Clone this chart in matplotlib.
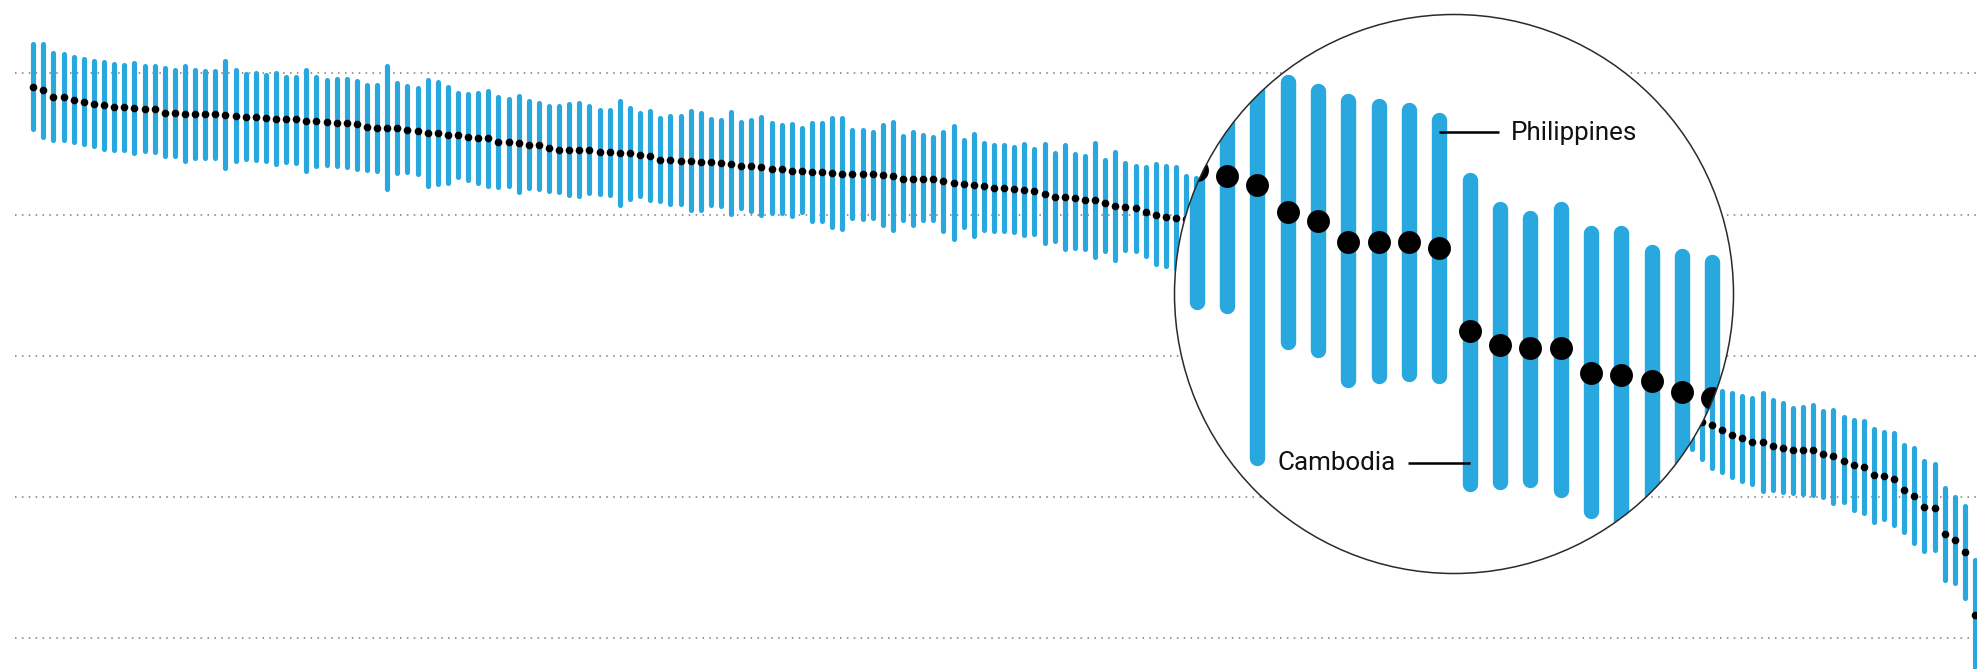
import numpy as np
import matplotlib.pyplot as plt
from matplotlib.patches import Ellipse

plt.rcParams["font.family"] = ["Roboto", "DejaVu Sans"]

# upper end, lower end and central estimate per country, ranked
high = [
    104.5, 104.6, 103.2, 103.1, 102.7, 102.4, 102.2, 102.0, 101.7, 101.6,
    101.9, 101.4, 101.4, 101.1, 100.9, 101.4, 100.8, 100.7, 100.7, 102.1,
    100.8, 100.3, 100.4, 100.2, 100.4, 99.9, 99.9, 100.9, 99.9, 99.5,
    99.6, 99.6, 99.3, 98.8, 98.7, 101.4, 99.0, 98.6, 98.3, 99.5,
    99.1, 98.5, 97.6, 97.4, 97.6, 97.9, 97.1, 96.8, 97.2, 96.4,
    96.2, 95.8, 95.7, 96.1, 96.2, 95.7, 95.2, 95.2, 96.4, 95.5,
    94.8, 95.1, 94.1, 94.4, 94.3, 95.1, 94.8, 93.9, 93.8, 94.9,
    93.5, 93.8, 94.2, 93.4, 93.0, 93.2, 92.6, 93.4, 93.3, 94.1,
    94.1, 92.4, 92.4, 92.1, 93.1, 93.5, 91.5, 92.1, 91.6, 91.3,
    92.1, 92.9, 90.9, 91.8, 90.5, 90.2, 90.2, 90.0, 90.3, 89.7,
    90.3, 89.1, 90.2, 88.9, 88.6, 90.5, 88.1, 89.2, 87.7, 87.3,
    87.1, 87.5, 87.3, 87.1, 85.8, 85.6, 85.6, 85.9, 85.2, 85.0,
    84.6, 84.9, 84.1, 83.8, 84.2, 83.4, 83.0, 83.3, 82.5, 82.1,
    82.4, 81.6, 81.5, 78.5, 79.5, 79.1, 78.7, 78.2, 78.0, 77.8,
    77.3, 74.5, 73.1, 72.7, 73.1, 72.0, 72.0, 71.1, 70.9, 70.6,
    70.2, 69.4, 68.9, 67.6, 67.2, 66.1, 65.5, 64.3, 63.8, 62.6,
    61.8, 60.9, 59.7, 58.9, 57.5, 57.0, 55.8, 55.4, 55.1, 54.7,
    54.4, 55.1, 54.1, 53.7, 53.0, 53.1, 53.4, 52.5, 52.6, 51.7,
    51.3, 51.1, 49.9, 49.5, 49.4, 47.7, 47.3, 45.4, 45.0, 41.6,
    40.3, 39.1, 31.4,
]
low = [
    91.8, 90.6, 90.2, 90.2, 89.9, 89.6, 89.4, 88.9, 88.8, 88.8,
    88.3, 88.6, 88.5, 87.9, 87.9, 87.2, 87.7, 87.7, 87.7, 86.3,
    87.2, 87.5, 87.3, 87.2, 86.8, 87.1, 87.0, 85.8, 86.5, 86.6,
    86.5, 86.4, 86.1, 86.0, 85.8, 83.2, 85.5, 85.7, 85.4, 83.7,
    84.0, 84.1, 84.9, 84.5, 84.1, 83.7, 83.5, 83.7, 82.9, 83.4,
    83.3, 83.0, 82.8, 82.4, 82.2, 82.7, 82.5, 82.4, 81.0, 81.8,
    82.3, 81.7, 81.5, 81.1, 81.1, 80.3, 80.3, 81.0, 80.9, 79.7,
    80.6, 80.2, 79.5, 79.8, 79.8, 79.4, 80.0, 78.7, 78.7, 77.8,
    77.6, 79.1, 79.0, 79.2, 78.1, 77.4, 78.8, 78.1, 78.8, 78.8,
    77.3, 76.1, 77.9, 76.6, 77.5, 77.3, 77.3, 77.1, 76.8, 76.9,
    75.6, 75.9, 74.7, 74.9, 74.7, 73.6, 74.5, 73.2, 74.6, 74.5,
    73.7, 72.6, 72.3, 71.9, 71.6, 71.2, 71.4, 71.0, 71.3, 70.6,
    70.9, 70.2, 70.4, 69.9, 69.5, 69.7, 69.0, 68.6, 68.8, 68.3,
    67.7, 67.9, 68.0, 67.8, 60.6, 66.1, 65.7, 64.3, 64.5, 64.6,
    64.5, 59.4, 59.5, 59.6, 59.1, 58.1, 57.5, 58.0, 58.2, 58.0,
    56.6, 55.9, 54.8, 54.3, 53.2, 52.6, 51.5, 50.8, 49.9, 49.2,
    48.1, 47.4, 46.8, 46.6, 46.4, 45.0, 43.7, 43.1, 42.4, 41.9,
    41.4, 40.5, 40.6, 40.3, 40.2, 40.0, 39.9, 39.6, 38.7, 38.9,
    37.8, 37.3, 36.1, 36.5, 35.6, 34.6, 33.0, 31.9, 32.0, 27.8,
    27.4, 25.2, 12.0,
]
mid = [
    98.1, 97.6, 96.7, 96.7, 96.3, 96.0, 95.7, 95.5, 95.2, 95.2,
    95.1, 95.0, 94.9, 94.4, 94.4, 94.3, 94.3, 94.3, 94.3, 94.1,
    94.0, 93.9, 93.9, 93.7, 93.6, 93.5, 93.5, 93.3, 93.2, 93.1,
    93.0, 93.0, 92.9, 92.4, 92.3, 92.3, 92.2, 92.0, 91.8, 91.6,
    91.5, 91.3, 91.3, 91.0, 90.9, 90.8, 90.3, 90.3, 90.1, 89.9,
    89.8, 89.4, 89.2, 89.2, 89.2, 89.2, 88.8, 88.8, 88.7, 88.7,
    88.4, 88.3, 87.7, 87.7, 87.6, 87.6, 87.5, 87.5, 87.3, 87.2,
    86.9, 86.9, 86.8, 86.5, 86.4, 86.2, 86.2, 86.0, 86.0, 85.9,
    85.8, 85.7, 85.7, 85.7, 85.6, 85.4, 85.1, 85.0, 85.0, 85.0,
    84.7, 84.5, 84.4, 84.2, 84.0, 83.8, 83.8, 83.6, 83.5, 83.3,
    82.9, 82.5, 82.5, 82.4, 82.1, 82.1, 81.6, 81.2, 81.1, 80.9,
    80.4, 80.0, 79.7, 79.5, 79.4, 79.1, 78.8, 78.5, 78.3, 78.0,
    77.8, 77.5, 77.3, 77.0, 76.8, 76.5, 76.1, 75.9, 75.6, 75.3,
    75.0, 74.8, 74.6, 74.3, 73.9, 72.6, 72.2, 71.2, 71.2, 71.2,
    70.9, 67.0, 66.3, 66.2, 66.2, 65.0, 64.9, 64.6, 64.1, 63.8,
    63.3, 62.5, 61.8, 60.9, 60.1, 59.3, 58.4, 57.6, 56.7, 55.8,
    54.9, 54.0, 53.1, 52.2, 51.0, 50.6, 50.1, 49.5, 48.8, 48.3,
    47.8, 47.7, 47.2, 46.9, 46.6, 46.6, 46.6, 46.0, 45.7, 45.1,
    44.5, 44.2, 43.0, 42.9, 42.5, 41.0, 40.1, 38.6, 38.4, 34.7,
    33.9, 32.1, 23.2,
]
grid_vals = [100, 80, 60, 40, 20]
callouts = ["Philippines", "Cambodia"]
callout_rank = [140, 141]

W, H, DPI = 1977, 669, 100
BLUE = "#29a8e0"
BAR_W = 3.7     # pt
DOT_MS = 5.5    # pt
MAG = 3

x = np.arange(len(mid))
high, low, mid = np.array(high), np.array(low), np.array(mid)

fig = plt.figure(figsize=(W / DPI, H / DPI), dpi=DPI)
ax = fig.add_axes([0, 0, 1, 1])
ax.axis("off")
ax.set_xlim(-3.29, 192.2)
ax.set_ylim(15.56, 110.42)


def draw_ranks(a, scale):
    lw = BAR_W * scale
    y0, y1 = a.get_ylim()
    # round caps reach past the segment ends by half the stroke
    cap = lw / 2 * DPI / 72 / (H / (y1 - y0))
    bars = a.vlines(x, low + cap, high - cap, colors=BLUE, linewidth=lw,
                    capstyle="round", zorder=2)
    dots, = a.plot(x, mid, "o", color="black", ms=DOT_MS * scale,
                   mew=0, zorder=3)
    return bars, dots


ax.hlines(grid_vals, -1.8, 200, colors="#7a7a7a", linewidth=1.1,
          linestyles=(0, (1, 3.5)), zorder=1)
draw_ranks(ax, 1)

# magnifying lens
cx, cy, r = 1454 / W, 1 - 294 / H, 279.5
ax2 = fig.add_axes([0, 0, 1, 1], zorder=2)
ax2.axis("off")
x0, x1 = ax.get_xlim()
y0, y1 = ax.get_ylim()
mx = x0 + cx * (x1 - x0)
my = y0 + cy * (y1 - y0)
ax2.set_xlim(mx + (x0 - mx) / MAG, mx + (x1 - mx) / MAG)
ax2.set_ylim(my + (y0 - my) / MAG, my + (y1 - my) / MAG)

disc = Ellipse((cx, cy), 2 * r / W, 2 * r / H, transform=fig.transFigure,
               facecolor="white", edgecolor="none", zorder=0)
ax2.add_artist(disc)
for art in draw_ranks(ax2, MAG):
    art.set_clip_path(disc)
rim = Ellipse((cx, cy), 2 * r / W, 2 * r / H, transform=fig.transFigure,
              fill=False, edgecolor="#2b2b2b", linewidth=1.1, zorder=5)
ax2.add_artist(rim)

# callouts inside the lens
p = callout_rank[0]
ax2.plot([p, p + 1.97], [76.4, 76.4], color="black", lw=1.8,
         solid_capstyle="butt", zorder=4)
ax2.text(p + 2.37, 76.0, callouts[0], fontsize=18.7, color="#111111",
         ha="left", va="baseline")
c = callout_rank[1]
ax2.plot([c - 2.04, c], [60.73, 60.73], color="black", lw=1.8,
         solid_capstyle="butt", zorder=4)
ax2.text(c - 2.42, 60.42, callouts[1], fontsize=18.7, color="#111111",
         ha="right", va="baseline")

fig.savefig("out.png", dpi=DPI, facecolor="white")
